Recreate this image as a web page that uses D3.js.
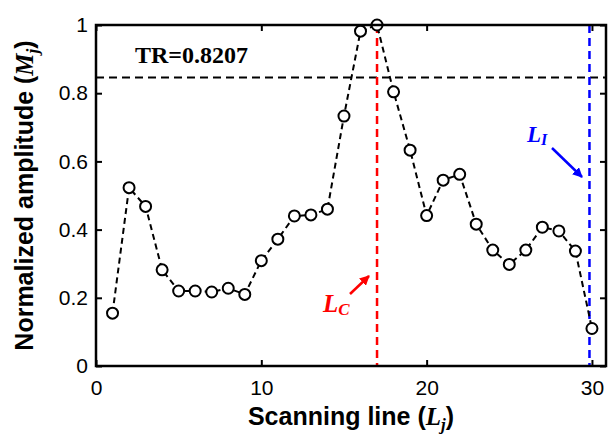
<!DOCTYPE html>
<html><head><meta charset="utf-8">
<script src="https://cdn.jsdelivr.net/npm/d3@7"></script>
<style>body{margin:0;background:#fff;}svg{display:block;}</style>
</head><body>
<svg id="c" width="612" height="436"></svg>
<script>
const lines = d3.range(1, 31);
const amplitude = [0.155,0.523,0.468,0.282,0.220,0.220,0.217,0.228,0.210,0.309,
  0.372,0.440,0.443,0.460,0.733,0.982,1.000,0.804,0.633,0.441,
  0.545,0.562,0.416,0.340,0.298,0.340,0.407,0.396,0.337,0.110];
const xTicks = [0,10,20,30];
const yTicks = [0,0.2,0.4,0.6,0.8,1];
const xTickLabels = ["0","10","20","30"];
const yTickLabels = ["0","0.2","0.4","0.6","0.8","1"];
const threshold = 0.846;
const thresholdLabel = "TR=0.8207";
const lcLine = 17;
const liLine = 29.85;

const svg = d3.select("#c");
const L = 96, R = 606, T = 25, B = 366;
const x = d3.scaleLinear().domain([0, 30.85]).range([L, R]);
const y = d3.scaleLinear().domain([0, 1]).range([B, T]);

// reference lines
svg.append("line").attr("x1", L).attr("x2", R).attr("y1", y(threshold)).attr("y2", y(threshold))
  .attr("stroke", "#000").attr("stroke-width", 2).attr("stroke-dasharray", "8,5");
svg.append("line").attr("x1", x(lcLine)).attr("x2", x(lcLine)).attr("y1", T).attr("y2", B)
  .attr("stroke", "#ff0000").attr("stroke-width", 2.5).attr("stroke-dasharray", "8,5");
svg.append("line").attr("x1", x(liLine)).attr("x2", x(liLine)).attr("y1", T).attr("y2", B)
  .attr("stroke", "#0000ff").attr("stroke-width", 2.5).attr("stroke-dasharray", "8,5");

// data line
const pts = lines.map((l, i) => [l, amplitude[i]]);
svg.append("path").datum(pts)
  .attr("d", d3.line().x(d => x(d[0])).y(d => y(d[1])))
  .attr("fill", "none").attr("stroke", "#000").attr("stroke-width", 2).attr("stroke-dasharray", "6,4");
svg.selectAll("circle.m").data(pts).join("circle").attr("class", "m")
  .attr("cx", d => x(d[0])).attr("cy", d => y(d[1])).attr("r", 5.5)
  .attr("fill", "#fff").attr("stroke", "#000").attr("stroke-width", 2);

// axes
const tl = 6;
const gb = svg.append("g").attr("transform", `translate(0,${B})`)
  .call(d3.axisBottom(x).tickValues(xTicks).tickFormat((d, i) => xTickLabels[i]).tickSizeInner(-tl).tickSizeOuter(0).tickPadding(14));
const gt = svg.append("g").attr("transform", `translate(0,${T})`)
  .call(d3.axisTop(x).tickValues(xTicks).tickFormat("").tickSizeInner(-tl).tickSizeOuter(0));
const gl = svg.append("g").attr("transform", `translate(${L},0)`)
  .call(d3.axisLeft(y).tickValues(yTicks).tickFormat((d, i) => yTickLabels[i]).tickSizeInner(-tl).tickSizeOuter(0).tickPadding(8));
const gr = svg.append("g").attr("transform", `translate(${R},0)`)
  .call(d3.axisRight(y).tickValues(yTicks).tickFormat("").tickSizeInner(-tl).tickSizeOuter(0));
[gb, gt, gl, gr].forEach(g => {
  g.select(".domain").remove();
  g.selectAll(".tick line").attr("stroke", "#000").attr("stroke-width", 2);
  g.selectAll(".tick text").attr("font-family", "Liberation Sans, Arial, sans-serif")
    .attr("font-size", 21).attr("fill", "#000");
});
svg.append("rect").attr("x", L).attr("y", T).attr("width", R - L).attr("height", B - T)
  .attr("fill", "none").attr("stroke", "#000").attr("stroke-width", 2.5);

// threshold label
svg.append("text").attr("x", 135).attr("y", 63)
  .attr("font-family", "Liberation Serif, Times New Roman, serif").attr("font-weight", "bold")
  .attr("font-size", 24).text(thresholdLabel);

// axis titles
const xt = svg.append("text").attr("x", (L + R) / 2).attr("y", 425).attr("text-anchor", "middle")
  .attr("font-family", "Liberation Sans, Arial, sans-serif").attr("font-weight", "bold").attr("font-size", 25);
xt.append("tspan").text("Scanning line (");
xt.append("tspan").attr("font-family", "Liberation Serif, serif").attr("font-style", "italic").text("L");
xt.append("tspan").attr("font-family", "Liberation Serif, serif").attr("font-style", "italic")
  .attr("font-size", 17).attr("dy", 5).text("j");
xt.append("tspan").attr("dy", -5).text(")");

const yt = svg.append("text").attr("transform", `translate(33,${(T + B) / 2}) rotate(-90)`)
  .attr("text-anchor", "middle")
  .attr("font-family", "Liberation Sans, Arial, sans-serif").attr("font-weight", "bold").attr("font-size", 25);
yt.append("tspan").text("Normalized amplitude (");
yt.append("tspan").attr("font-family", "Liberation Serif, serif").attr("font-style", "italic").text("M");
yt.append("tspan").attr("font-family", "Liberation Serif, serif").attr("font-style", "italic")
  .attr("font-size", 17).attr("dy", 5).text("j");
yt.append("tspan").attr("dy", -5).text(")");

// arrow markers
const defs = svg.append("defs");
[["ar", "#ff0000"], ["ab", "#0000ff"]].forEach(([id, c]) => {
  defs.append("marker").attr("id", id).attr("viewBox", "0 0 10 10").attr("refX", 9).attr("refY", 5)
    .attr("markerWidth", 4).attr("markerHeight", 4).attr("orient", "auto")
    .append("path").attr("d", "M0,0 L10,5 L0,10 z").attr("fill", c);
});

// L_C annotation
const lc = svg.append("text").attr("x", 323).attr("y", 312).attr("fill", "#ff0000")
  .attr("font-family", "Liberation Serif, Times New Roman, serif").attr("font-weight", "bold")
  .attr("font-style", "italic").attr("font-size", 25);
lc.append("tspan").text("L");
lc.append("tspan").attr("font-size", 17).attr("dy", 3).text("C");
svg.append("line").attr("x1", 350).attr("y1", 294).attr("x2", 369).attr("y2", 276)
  .attr("stroke", "#ff0000").attr("stroke-width", 2.5).attr("marker-end", "url(#ar)");

// L_I annotation
const li = svg.append("text").attr("x", 527).attr("y", 142).attr("fill", "#0000ff")
  .attr("font-family", "Liberation Serif, Times New Roman, serif").attr("font-weight", "bold")
  .attr("font-style", "italic").attr("font-size", 23);
li.append("tspan").text("L");
li.append("tspan").attr("font-size", 16).attr("dy", 3).text("I");
svg.append("line").attr("x1", 552).attr("y1", 148).attr("x2", 582).attr("y2", 177)
  .attr("stroke", "#0000ff").attr("stroke-width", 2.5).attr("marker-end", "url(#ab)");
</script>
</body></html>
